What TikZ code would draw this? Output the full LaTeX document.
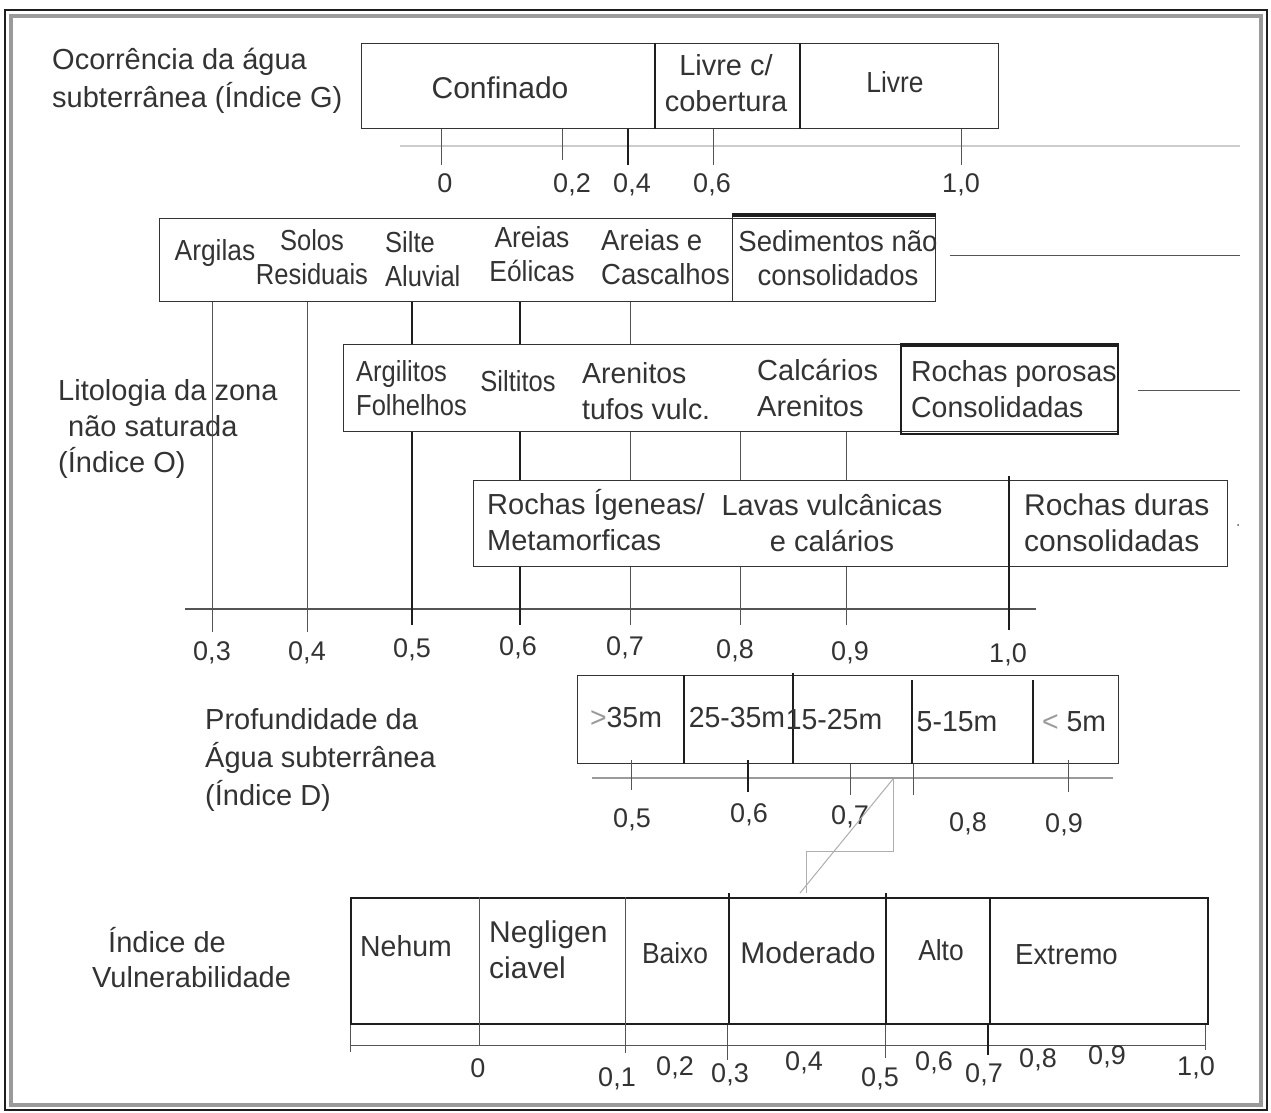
\documentclass[tikz,border=0pt]{standalone}
\usepackage{fontspec}
\setmainfont{Liberation Sans}
\newfontfamily\fsA[FakeStretch=0.88]{Liberation Sans}
\newfontfamily\fsB[FakeStretch=0.91]{Liberation Sans}
\newfontfamily\fsC[FakeStretch=0.95]{Liberation Sans}
\newfontfamily\fsD[FakeStretch=0.98]{Liberation Sans}
\definecolor{ink}{HTML}{333333}
\definecolor{dk}{HTML}{1E1E1E}
\definecolor{lg}{HTML}{9A9A9A}
\definecolor{md}{HTML}{555555}
\tikzset{
  txt/.style={text=ink, font=\fontsize{29}{36}\selectfont, inner sep=0pt},
  sz/.style={font=\fontsize{#1}{36}\selectfont},
  nA/.style={font=\fsA\fontsize{29}{34.5}\selectfont},
  nB/.style={font=\fsB\fontsize{29}{34.5}\selectfont},
  nC/.style={font=\fsC\fontsize{29}{34.5}\selectfont},
  nD/.style={font=\fsD\fontsize{29}{36}\selectfont},
  lbl/.style={text=ink, font=\fontsize{29}{37}\selectfont, inner sep=0pt, align=left, anchor=west},
  tk/.style={text=ink, font=\fontsize{27}{35}\selectfont, inner sep=0pt, anchor=base},
  box/.style={draw=ink, line width=1.3pt, inner sep=0pt, anchor=north west},
  hbox/.style={draw=dk, line width=2pt, inner sep=0pt, anchor=north west},
  dline/.style={draw=dk, line width=1.8pt},
  tline/.style={draw=md, line width=1pt},
  axline/.style={draw=lg, line width=1.2pt},
}
\begin{document}
\begin{tikzpicture}[x=1pt,y=-1pt]
\useasboundingbox (0,0) rectangle (1271,1113);
\fill[white] (0,0) rectangle (1271,1113);
% frame
\draw[dk, line width=2pt] (5,10) rectangle (1267,1110);
\draw[lg, line width=3.5pt] (11,16) rectangle (1261,1105);

% ===== Section G =====
\node[lbl, font=\fontsize{29}{38}\selectfont] (lG) at (52,81) {Ocorrência da água\\subterrânea (Índice G)};
\node[box, minimum width=637pt, minimum height=85pt] (bG) at (361,43) {};
\coordinate (gd1) at (655,0); \coordinate (gd2) at (800,0);
\draw[dline] (gd1 |- bG.north) -- (gd1 |- bG.south);
\draw[dline] (gd2 |- bG.north) -- (gd2 |- bG.south);
\node[txt, sz=30] (tConf) at (500,88) {Confinado};
\node[txt, align=center] (tLc) at (726,83) {Livre c/\\cobertura};
\node[txt, nB] (tLivre) at (895,82) {Livre};
\coordinate (gaL) at (400,146); \coordinate (gaR) at (1240,146);
\draw[axline, draw=lg!50] (gaL) -- (gaR);
\coordinate (gt0) at (441,165); \coordinate (gt2) at (562,160);
\coordinate (gt4) at (628,165); \coordinate (gt6) at (713,165);
\coordinate (gt10) at (961,165);
\draw[tline] (gt0 |- bG.south) -- (gt0);
\draw[tline] (gt2 |- bG.south) -- (gt2);
\draw[dline] (gt4 |- bG.south) -- (gt4);
\draw[tline] (gt6 |- bG.south) -- (gt6);
\draw[tline] (gt10 |- bG.south) -- (gt10);
\node[tk] (gl0) at (445,192) {0};
\node[tk] (gl2) at (572,192) {0,2};
\node[tk] (gl4) at (632,192) {0,4};
\node[tk] (gl6) at (712,192) {0,6};
\node[tk] (gl10) at (961,192) {1,0};

% ===== Section O (lithology) =====
\node[lbl, font=\fontsize{29}{36}\selectfont] (lO) at (58,429) {Litologia da zona\\\hspace*{10pt}não saturada\\(Índice O)};
% box 1
\node[box, minimum width=776pt, minimum height=83pt] (bL1) at (159,218) {};
\node[box, minimum width=203pt, minimum height=86pt] (bSed) at (732,215) {};
\draw[dk, line width=3.5pt] (bSed.north west) -- (bSed.north east);
\coordinate (r1a) at (950,255); \coordinate (r1b) at (1240,255);
\draw[tline] (r1a) -- (r1b);
\node[txt, nB] (tArg) at (215,253) {Argilas};
\node[txt, nA, align=center] (tSolos) at (312,257) {Solos\\Residuais};
\node[txt, nA, align=left, anchor=west] (tSilte) at (385,259) {Silte\\Aluvial};
\node[txt, nB, align=center] (tAreol) at (532,254) {Areias\\Eólicas};
\node[txt, nC, align=left, anchor=west] (tArcas) at (601,257) {Areias e\\Cascalhos};
\node[txt, nC, align=center] (tSed) at (838,258) {Sedimentos não\\consolidados};
% box 2
\node[box, minimum width=774pt, minimum height=87pt] (bL2) at (343,344) {};
\node[hbox, minimum width=217pt, minimum height=88pt] (bPor) at (900,345) {};
\draw[dk, line width=3.5pt] (bPor.north west) -- (bPor.north east);
\coordinate (r2a) at (1138,390); \coordinate (r2b) at (1240,390);
\draw[tline] (r2a) -- (r2b);
\node[txt, nA, align=left, anchor=west] (tArgl) at (356,388) {Argilitos\\Folhelhos};
\node[txt, nA] (tSilt) at (518,381) {Siltitos};
\node[txt, nD, align=left, anchor=west] (tAren) at (582,391) {Arenitos\\tufos vulc.};
\node[txt, align=left, anchor=west] (tCalc) at (757,388) {Calcários\\Arenitos};
\node[txt, nD, align=left, anchor=west] (tPor) at (911,389) {Rochas porosas\\Consolidadas};
% box 3
\node[box, minimum width=754pt, minimum height=86pt] (bL3) at (473,480) {};
\node[txt, align=left, anchor=west] (tIgn) at (487,520) {Rochas Ígeneas/\\Metamorficas};
\node[txt, align=center] (tLav) at (832,523) {Lavas vulcânicas\\e calários};
\node[txt, sz=30, align=left, anchor=west] (tDur) at (1024,523) {Rochas duras\\consolidadas};
\fill[md] (1238,525) circle (1pt);
% axis O
\coordinate (oaL) at (185,609); \coordinate (oaR) at (1036,609);
\draw[tline, line width=1.3pt] (oaL) -- (oaR);
\coordinate (o3) at (212,632); \coordinate (o4) at (307,632);
\coordinate (o5) at (412,625); \coordinate (o6) at (520,625);
\coordinate (o7) at (630,625); \coordinate (o8) at (740,625);
\coordinate (o9) at (846,625); \coordinate (o10) at (1009,630);
\draw[tline] (o3 |- bL1.south) -- (o3);
\draw[tline] (o4 |- bL1.south) -- (o4);
\draw[dline] (o5 |- bL1.south) -- (o5 |- bL2.north);
\draw[dline] (o5 |- bL2.south) -- (o5);
\draw[dline] (o6 |- bL1.south) -- (o6 |- bL2.north);
\draw[dline] (o6 |- bL2.south) -- (o6 |- bL3.north);
\draw[dline] (o6 |- bL3.south) -- (o6);
\draw[tline] (o7 |- bL1.south) -- (o7 |- bL2.north);
\draw[tline] (o7 |- bL2.south) -- (o7 |- bL3.north);
\draw[tline] (o7 |- bL3.south) -- (o7);
\draw[tline] (o8 |- bL2.south) -- (o8 |- bL3.north);
\draw[tline] (o8 |- bL3.south) -- (o8);
\draw[tline] (o9 |- bL2.south) -- (o9 |- bL3.north);
\draw[tline] (o9 |- bL3.south) -- (o9);
\coordinate (o10t) at (1009,476);
\draw[dline] (o10t) -- (o10);
\node[tk] (ol3) at (212,660) {0,3};
\node[tk] (ol4) at (307,660) {0,4};
\node[tk] (ol5) at (412,657) {0,5};
\node[tk] (ol6) at (518,655) {0,6};
\node[tk] (ol7) at (625,655) {0,7};
\node[tk] (ol8) at (735,658) {0,8};
\node[tk] (ol9) at (850,660) {0,9};
\node[tk] (ol10) at (1008,662) {1,0};

% ===== Section D =====
\node[lbl, font=\fontsize{29}{38}\selectfont] (lD) at (205,760) {Profundidade da\\Água subterrânea\\(Índice D)};
\node[box, minimum width=541pt, minimum height=88pt] (bD) at (577,675) {};
\coordinate (dd1) at (684,675); \coordinate (dd2) at (793,673);
\coordinate (dd3) at (912,680); \coordinate (dd4) at (1033,680);
\draw[dline] (dd1) -- (dd1 |- bD.south);
\draw[dline] (dd2) -- (dd2 |- bD.south);
\draw[dline] (dd3) -- (dd3 |- bD.south);
\draw[dline] (dd4) -- (dd4 |- bD.south);
\node[txt, nD] (td1) at (626,718) {\textcolor{lg}{>}35m};
\node[txt, nD] (td2) at (737,718) {25-35m};
\node[txt, nD] (td3) at (834,720) {15-25m};
\node[txt, nD] (td4) at (957,722) {5-15m};
\node[txt, nD] (td5) at (1074,722) {\textcolor{lg}{<} 5m};
\coordinate (daL) at (592,778); \coordinate (daR) at (1113,778);
\draw[axline, line width=1.8pt] (daL) -- (daR);
\coordinate (dt5) at (631,790); \coordinate (dt6) at (748,792);
\coordinate (dt7) at (850,795); \coordinate (dt8) at (913,795);
\coordinate (dt9) at (1068,792);
\draw[tline] (631,760) -- (dt5);
\draw[dline] (748,760) -- (dt6);
\draw[tline] (dt7 |- bD.south) -- (dt7);
\draw[tline] (dt8 |- bD.south) -- (dt8);
\draw[tline] (1068,760) -- (dt9);
\node[tk] (dl5) at (632,827) {0,5};
\node[tk] (dl6) at (749,822) {0,6};
\node[tk] (dl7) at (850,824) {0,7};
\node[tk] (dl8) at (968,831) {0,8};
\node[tk] (dl9) at (1064,832) {0,9};
% gray connector
\coordinate (z1) at (893,779); \coordinate (z2) at (893,851);
\coordinate (z3) at (806,851); \coordinate (z4) at (806,893);
\coordinate (z5) at (800,893);
\draw[lg!80, line width=1pt] (z1) -- (z2) -- (z3) -- (z4);
\draw[lg!80, line width=1pt] (z1) -- (z5);

% ===== Section V =====
\node[lbl, font=\fontsize{29}{35}\selectfont] (lV) at (92,958) {\hspace*{16pt}Índice de\\Vulnerabilidade};
\node[box, draw=dk, line width=1.5pt, minimum width=857pt, minimum height=126pt] (bV) at (350,897) {};
\coordinate (vaL) at (350,1045); \coordinate (vaR) at (1205,1045);
\draw[tline, draw=md] (vaL) -- (vaR);
\coordinate (vlb) at (350,1052);
\draw[tline] (bV.south west) -- (vlb);
\coordinate (v0) at (479,1045); \coordinate (v1) at (625,1053);
\coordinate (v3) at (727,1060); \coordinate (v5) at (885,1058);
\coordinate (v7) at (988,1055); \coordinate (v10) at (1205,1050);
\draw[tline] (v0 |- bV.north) -- (v0);
\draw[tline] (v1 |- bV.north) -- (v1);
\draw[dline] (729,893) -- (729,1025);
\draw[tline] (727,1025) -- (v3);
\draw[dline] (886,893) -- (886,1023);
\draw[tline] (v5 |- bV.south) -- (v5);
\draw[dline] (990,897) -- (990,1025);
\draw[dline] (988,1025) -- (v7);
\draw[tline] (v10 |- bV.south) -- (v10);
\node[txt, nD] (tNeh) at (406,946) {Nehum};
\node[txt, sz=30, align=left, anchor=west] (tNeg) at (489,950) {Negligen\\ciavel};
\node[txt, nB] (tBai) at (675,953) {Baixo};
\node[txt, sz=30] (tMod) at (808,953) {Moderado};
\node[txt, nB] (tAlt) at (941,950) {Alto};
\node[txt, nC, anchor=west] (tExt) at (1015,955) {Extremo};
\node[tk] (vl0) at (478,1077) {0};
\node[tk] (vl1) at (617,1086) {0,1};
\node[tk] (vl2) at (675,1075) {0,2};
\node[tk] (vl3) at (730,1082) {0,3};
\node[tk] (vl4) at (804,1070) {0,4};
\node[tk] (vl5) at (880,1086) {0,5};
\node[tk] (vl6) at (934,1070) {0,6};
\node[tk] (vl7) at (984,1082) {0,7};
\node[tk] (vl8) at (1038,1067) {0,8};
\node[tk] (vl9) at (1107,1064) {0,9};
\node[tk] (vl10) at (1196,1075) {1,0};
\end{tikzpicture}
\end{document}
